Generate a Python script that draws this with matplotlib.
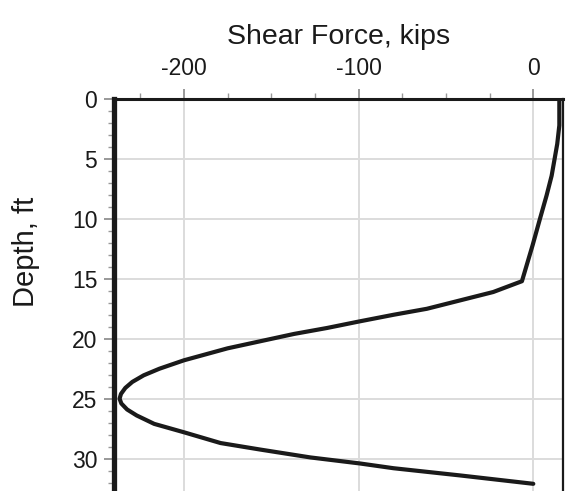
import matplotlib.pyplot as plt
from matplotlib.ticker import MultipleLocator

plt.rcParams['font.family'] = ['Liberation Sans', 'DejaVu Sans']
plt.rcParams['axes.unicode_minus'] = False

# shear force (kips) vs depth (ft)
depth = [0.1, 2.2, 3.75, 6.4, 8.05, 10.0, 12.2, 15.2,
         16.1, 16.8, 17.5, 18.0, 18.55, 19.1, 19.6, 20.2, 20.8, 21.8,
         22.5, 23.05, 23.6, 24.1, 24.6, 25.0, 25.4, 25.9, 26.4, 27.1, 27.8, 28.7, 29.25,
         29.9, 30.4, 30.8, 31.4, 32.1]
shear = [14.9, 14.9, 13.7, 10.5, 7.6, 3.8, -0.4, -6.5,
         -22.9, -41.9, -60.9, -80.0, -99.4, -118.0, -137.0, -156.0, -175.0, -200.0,
         -214.0, -223.0, -229.5, -233.5, -236.0, -236.8, -235.8, -232.5, -227.0, -217.0, -200.0, -179.0, -156.0,
         -127.6, -99.4, -80.0, -42.0, 0.0]

xticks = [-200, -100, 0]
yticks = [0, 5, 10, 15, 20, 25, 30]

fig = plt.figure(figsize=(5.66, 4.91), dpi=100)
ax = fig.add_axes([0.2014, 0.0, 0.7933, 0.7984])

ax.plot(shear, depth, color='#1a1a1a', lw=3.0, solid_joinstyle='round',
        solid_capstyle='round', zorder=3)

ax.set_xlim(-240, 17)
ax.set_ylim(32.7, 0)
ax.set_xticks(xticks)
ax.set_yticks(yticks)
ax.xaxis.set_minor_locator(MultipleLocator(25))
ax.yaxis.set_minor_locator(MultipleLocator(1))

ax.xaxis.tick_top()
ax.xaxis.set_label_position('top')
ax.tick_params(axis='both', which='major', labelsize=16.5, length=7, width=1.2,
               color='#888888', labelcolor='#1a1a1a')
ax.tick_params(axis='both', which='minor', length=4, width=1.0, color='#999999')
ax.tick_params(axis='x', pad=7)
ax.tick_params(axis='y', pad=5)

ax.grid(True, which='major', color='#dcdcdc', lw=1.4)
ax.set_axisbelow(True)

ax.spines['left'].set_linewidth(3.8)
ax.spines['top'].set_linewidth(2.2)
ax.spines['right'].set_linewidth(1.6)
ax.spines['bottom'].set_visible(False)
for s in ax.spines.values():
    s.set_color('#1a1a1a')

ax.set_xlabel('Shear Force, kips', fontsize=20.5, labelpad=9, color='#1a1a1a')
ax.set_ylabel('Depth, ft', fontsize=21, color='#1a1a1a')
ax.yaxis.set_label_coords(-0.165, 0.61)

fig.savefig('out.png', dpi=100)
